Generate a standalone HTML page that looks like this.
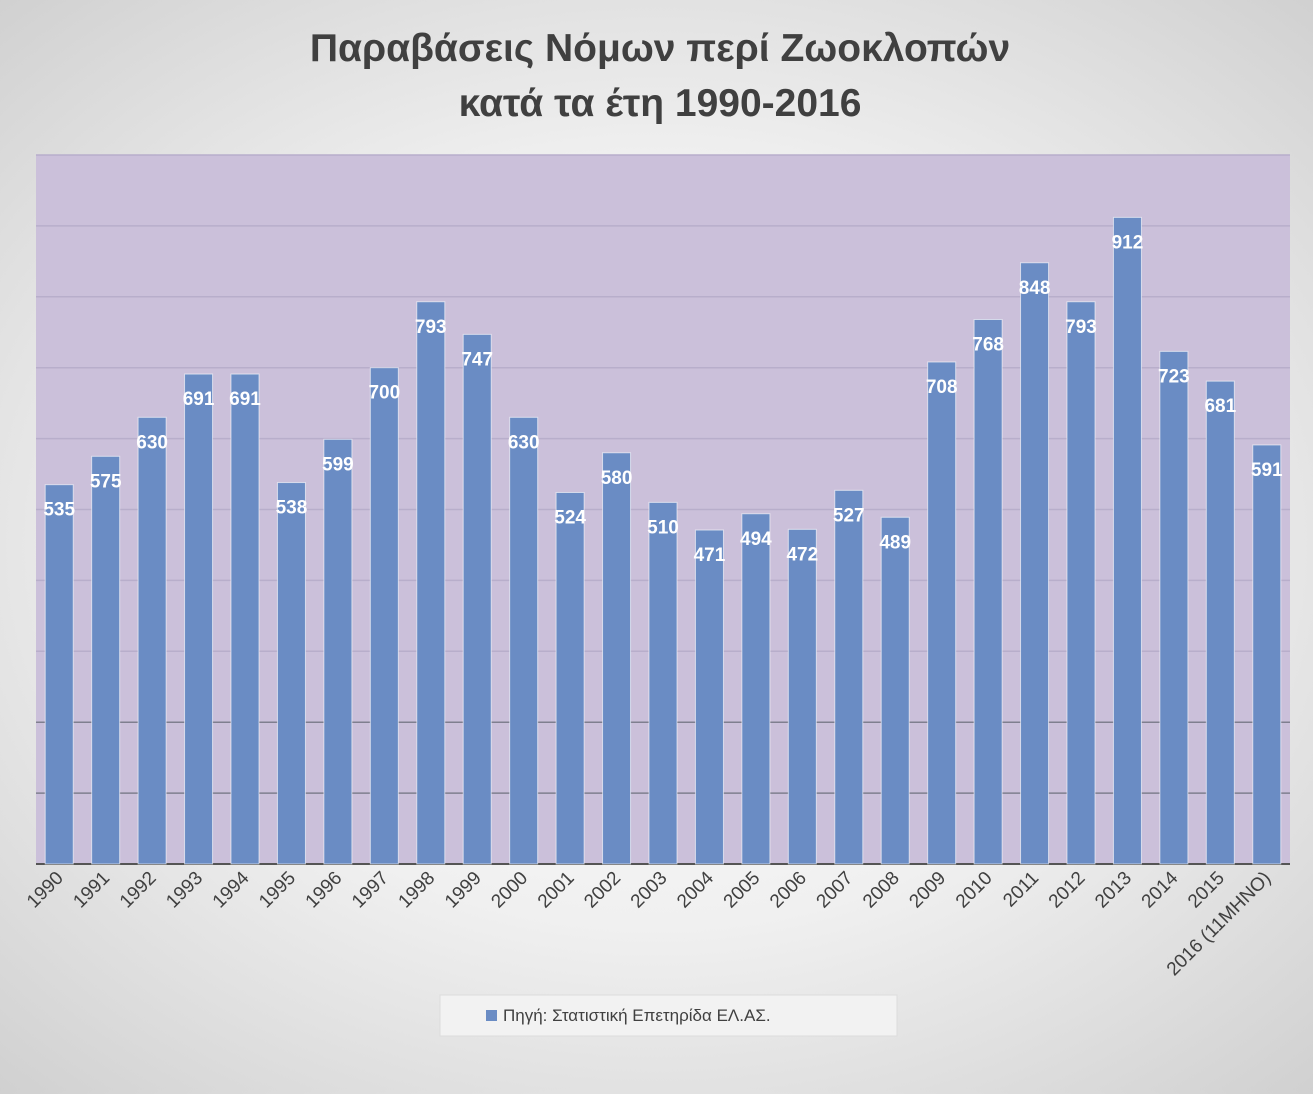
<!DOCTYPE html>
<html><head><meta charset="utf-8">
<style>
html,body{margin:0;padding:0}
body{width:1313px;height:1089px;overflow:hidden;font-family:"Liberation Sans","DejaVu Sans",sans-serif;
background:radial-gradient(ellipse 75% 70% at 50% 50%,#ffffff 0%,#f0f0f0 50%,#cfcfcf 100%);}
</style></head><body>
<svg id="chart" width="1313" height="1089" xmlns="http://www.w3.org/2000/svg">
<text x="660" y="61" text-anchor="middle" font-size="39" font-weight="bold" fill="#404040" font-family="Liberation Sans, DejaVu Sans, sans-serif">Παραβάσεις Νόμων περί Ζωοκλοπών</text>
<text x="660" y="116" text-anchor="middle" font-size="39" font-weight="bold" fill="#404040" font-family="Liberation Sans, DejaVu Sans, sans-serif">κατά τα έτη 1990-2016</text>
<rect x="36" y="155" width="1254" height="709" fill="#cbc0da"/>
<g id="grid"></g><g id="bars"></g><g id="xlabels"></g>
<g>
<rect x="440" y="995" width="457" height="41" fill="#f2f2f2" stroke="#dcdcdc"/>
<rect x="486" y="1010" width="11" height="11" fill="#6a8cc4"/>
<text x="503" y="1021" font-size="17" fill="#404040" font-family="Liberation Sans, DejaVu Sans, sans-serif">Πηγή: Στατιστική Επετηρίδα ΕΛ.ΑΣ.</text>
</g>
</svg>
<script>
const categories=["1990","1991","1992","1993","1994","1995","1996","1997","1998","1999","2000","2001","2002","2003","2004","2005","2006","2007","2008","2009","2010","2011","2012","2013","2014","2015","2016 (11ΜΗΝΟ)"];
const values=[535,575,630,691,691,538,599,700,793,747,630,524,580,510,471,494,472,527,489,708,768,848,793,912,723,681,591];
const gridTicks=[100,200,300,400,500,600,700,800,900,1000];
const NS="http://www.w3.org/2000/svg";
const x0=36,x1=1290,yBase=864,yTop=155,yMax=1000;
const band=(x1-x0)/categories.length;
const xc=i=>x0+band*(i+0.5);
const y=v=>yBase-(v/yMax)*(yBase-yTop);
function mk(t,a,p){const e=document.createElementNS(NS,t);for(const k in a)e.setAttribute(k,a[k]);p.appendChild(e);return e;}
const g=document.getElementById('grid');
gridTicks.forEach(v=>{const l=mk('line',{x1:x0,x2:x1,y1:y(v),y2:y(v),stroke:v<=200?'#7f7f8f':'#b8aecb','stroke-width':1.5},g);

});
const ax=mk('line',{x1:x0,x2:x1,y1:yBase,y2:yBase,stroke:'#555','stroke-width':2},g);


const b=document.getElementById('bars');
const bw=28;
values.forEach((v,i)=>{
const r=mk('rect',{x:xc(i)-bw/2,y:y(v),width:bw,height:yBase-y(v),fill:'#6a8cc4',stroke:'#ffffff','stroke-opacity':0.6,'stroke-width':1},b);


const t=mk('text',{x:xc(i),y:y(v)+31,'text-anchor':'middle','font-size':19,'font-weight':'bold',fill:'#ffffff'},b);
t.textContent=v;

});
const xl=document.getElementById('xlabels');
categories.forEach((c,i)=>{
const t=mk('text',{x:xc(i)+5,y:879,'text-anchor':'end','font-size':19,fill:'#404040',transform:`rotate(-45 ${xc(i)+5} 879)`},xl);
t.textContent=c;

});
</script>
</body></html>
